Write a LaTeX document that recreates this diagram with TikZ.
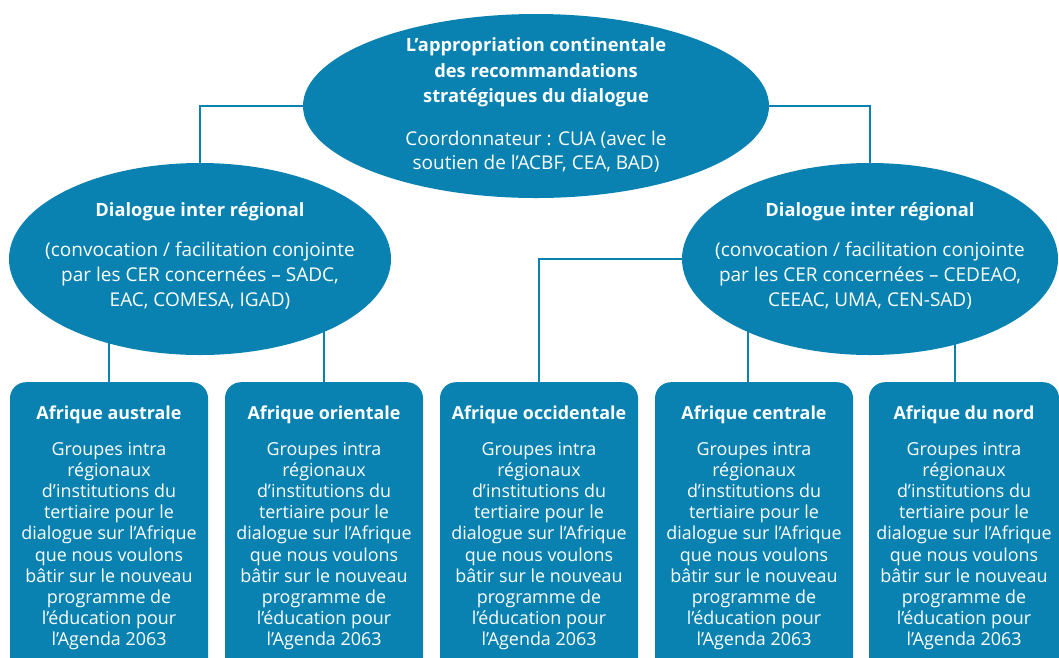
\documentclass[tikz,border=0pt]{standalone}
\usepackage{fontspec}
\setmainfont{Open Sans}
\usetikzlibrary{shapes.geometric,backgrounds,calc}
\definecolor{au}{RGB}{9,130,177}
\newcommand{\tb}[1]{{\fontsize{18.3}{25}\selectfont\bfseries #1}}
\begin{document}
\begin{tikzpicture}[x=1pt,y=-1pt,
  oval/.style={ellipse,fill=au,draw=none,inner sep=0pt},
  otext/.style={text=white,align=center,inner sep=0pt,font=\fontsize{19}{25}\selectfont},
  rbox/.style={rectangle,rounded corners=16pt,fill=au,draw=none,minimum width=198pt,minimum height=300pt,inner sep=0pt},
  btext/.style={text=white,align=center,inner sep=0pt,font=\fontsize{17.9}{21.1}\selectfont},
  conn/.style={draw=au,line width=2.3pt}]
\clip (0,0) rectangle (1059,657);
\useasboundingbox (0,0) rectangle (1059,657);
% ellipses
\node[oval,minimum width=466pt,minimum height=184pt] (top) at (536,106) {};
\node[otext,font=\fontsize{19}{24}\selectfont] (topt) at (536,105)
 {\tb{L’appropriation continentale}\\[1.5pt]\tb{des recommandations}\\[1pt]\tb{stratégiques du dialogue}\\[19pt]Coordonnateur : CUA (avec le\\soutien de l’ACBF, CEA, BAD)};
\node[oval,minimum width=382pt,minimum height=192pt] (left) at (200,259) {};
\node[otext] (leftt) at (200,255.5)
 {\tb{Dialogue inter régional}\\[15pt](convocation / facilitation conjointe\\par les CER concernées – SADC,\\EAC, COMESA, IGAD)};
\node[oval,minimum width=376pt,minimum height=192pt] (right) at (870,259) {};
\node[otext] (rightt) at (870,255.5)
 {\tb{Dialogue inter régional}\\[15pt](convocation / facilitation conjointe\\par les CER concernées – CEDEAO,\\CEEAC, UMA, CEN-SAD)};
% boxes
\node[rbox,anchor=north] (b1) at (109,382) {};
\node[rbox,anchor=north] (b2) at (324,382) {};
\node[rbox,anchor=north] (b3) at (539,382) {};
\node[rbox,anchor=north] (b4) at (754,382) {};
\node[rbox,anchor=north,minimum width=190pt] (b5) at (964,382) {};
\foreach \b/\t in {b1/Afrique australe,b2/Afrique orientale,b3/Afrique occidentale,b4/Afrique centrale,b5/Afrique du nord}{
  \node[btext,anchor=north] (\b t) at ($(\b.north)+(0,23.5)$)
   {\textbf{\t}\\[15pt]Groupes intra\\régionaux\\d’institutions du\\tertiaire pour le\\dialogue sur l’Afrique\\que nous voulons\\bâtir sur le nouveau\\programme de\\l’éducation pour\\l’Agenda 2063};
}
% connectors
\begin{scope}[on background layer]
\draw[conn] (top.west) -| (left.north);
\draw[conn] (top.east) -| (right.north);
\draw[conn] (b1.north) -- (b1.north |- left.center);
\draw[conn] (b2.north) -- (b2.north |- left.center);
\draw[conn] (right.west) -| (b3.north);
\draw[conn] ($(b4.north)+(-6,0)$) -- ($(b4.north |- right.center)+(-6,0)$);
\draw[conn] ($(b5.north)+(-9,0)$) -- ($(b5.north |- right.center)+(-9,0)$);
\end{scope}
\end{tikzpicture}
\end{document}
